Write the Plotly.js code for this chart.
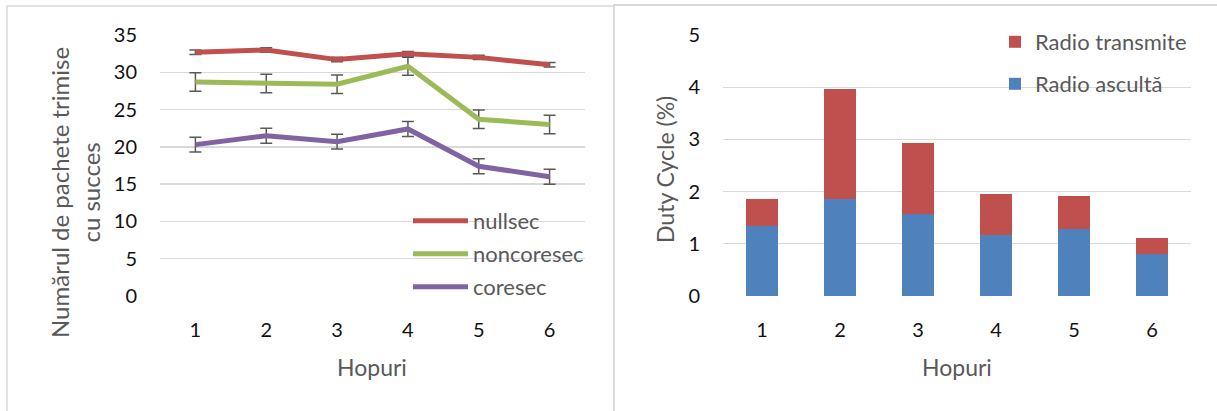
<!DOCTYPE html>
<html>
<head>
<meta charset="utf-8">
<script src="https://cdn.plot.ly/plotly-3.0.1.min.js"></script>
<style>html,body{margin:0;padding:0;background:#fff;}#chart{width:1217px;height:411px;}</style>
</head>
<body>
<div id="chart"></div>
<script>
// ---- data ----
const hops = ['1', '2', '3', '4', '5', '6'];
const nullsec = [32.7, 33.0, 31.7, 32.5, 32.0, 31.0];
const nullsecErr = [0.3, 0.3, 0.3, 0.3, 0.3, 0.3];
const noncoresec = [28.7, 28.5, 28.4, 30.8, 23.7, 23.0];
const noncoresecErr = [1.25, 1.25, 1.25, 1.2, 1.25, 1.25];
const coresec = [20.3, 21.5, 20.7, 22.4, 17.4, 16.0];
const coresecErr = [1.0, 1.0, 1.0, 1.0, 1.0, 1.0];
const radioListen = [1.34, 1.86, 1.57, 1.16, 1.28, 0.81];
const radioTransmit = [0.52, 2.11, 1.37, 0.80, 0.64, 0.30];
const seriesNames = ['nullsec', 'noncoresec', 'coresec'];
const barNames = ['Radio transmite', 'Radio ascultă'];
const leftYTitle = 'Numărul de pachete trimise<br>cu succes';
const rightYTitle = 'Duty Cycle (%)';
const xTitle = 'Hopuri';

// ---- style ----
const W = 1217, H = 411;
const px = v => v / W;
const py = v => 1 - v / H;
const FONT = 'Lato, "Open Sans", sans-serif';
const grid = '#d9d9d9';
const errStyle = (arr) => ({type: 'data', array: arr, visible: true, color: '#595959', thickness: 1.5, width: 6});

function lineTrace(name, y, err, color, legend) {
  return {
    type: 'scatter', mode: 'lines', x: hops, y: y, name: name,
    line: {color: color, width: 5},
    error_y: errStyle(err),
    xaxis: 'x', yaxis: 'y', legend: legend
  };
}

const traces = [
  lineTrace(seriesNames[0], nullsec, nullsecErr, '#C0504D', 'legend'),
  lineTrace(seriesNames[1], noncoresec, noncoresecErr, '#9BBB59', 'legend2'),
  lineTrace(seriesNames[2], coresec, coresecErr, '#8064A2', 'legend3'),
  {type: 'bar', x: hops, y: radioListen, name: barNames[1], marker: {color: '#4F81BD'}, xaxis: 'x2', yaxis: 'y2', legend: 'legend5'},
  {type: 'bar', x: hops, y: radioTransmit, name: barNames[0], marker: {color: '#C0504D'}, xaxis: 'x2', yaxis: 'y2', legend: 'legend4'}
];

const tickFont = {family: FONT, size: 20, color: '#111'};
const titleFont = {family: FONT, size: 23, color: '#595959'};
const yTitleFont = {family: FONT, size: 24, color: '#595959'};
const legFont = {family: FONT, size: 22, color: '#595959'};

const yDom = [py(296), py(35)];
function legendAt(x, y, iw) {
  return {x: px(x), y: py(y), xanchor: 'left', yanchor: 'middle', xref: 'paper', yref: 'paper',
          font: legFont, bgcolor: 'rgba(0,0,0,0)', borderwidth: 0, itemwidth: iw, itemclick: false};
}

const layout = {
  width: W, height: H,
  margin: {l: 0, r: 0, t: 0, b: 0},
  paper_bgcolor: '#fff', plot_bgcolor: '#fff',
  barmode: 'stack', bargap: 0.6,
  showlegend: true,
  xaxis: {domain: [px(160), px(585)], type: 'category', range: [-0.5, 5.5], showgrid: false, showline: false, zeroline: false,
          ticks: '', tickfont: tickFont, ticklabelstandoff: 20, anchor: 'y', fixedrange: true},
  yaxis: {domain: yDom, range: [0, 35], dtick: 5, showgrid: true, gridcolor: grid, gridwidth: 1.3,
          zeroline: false, showline: false, ticks: '', tickfont: tickFont, ticklabelstandoff: 22, anchor: 'x', fixedrange: true},
  xaxis2: {domain: [px(723), px(1191)], type: 'category', range: [-0.5, 5.5], showgrid: false, showline: false, zeroline: false,
          ticks: '', tickfont: tickFont, ticklabelstandoff: 20, anchor: 'y2', fixedrange: true},
  yaxis2: {domain: yDom, range: [0, 5], dtick: 1, showgrid: true, gridcolor: grid, gridwidth: 1.3,
          zeroline: false, showline: false, ticks: '', tickfont: tickFont, ticklabelstandoff: 22, anchor: 'x2', fixedrange: true},
  legend: legendAt(408, 221, 55),
  legend2: legendAt(408, 254, 55),
  legend3: legendAt(408, 287, 55),
  legend4: legendAt(995, 42, 30),
  legend5: legendAt(995, 84, 30),
  annotations: [
    {text: leftYTitle, textangle: -90, x: px(75), y: py(193), xref: 'paper', yref: 'paper',
     showarrow: false, font: yTitleFont, xanchor: 'center', yanchor: 'middle'},
    {text: xTitle, x: px(372), y: py(367), xref: 'paper', yref: 'paper',
     showarrow: false, font: titleFont, xanchor: 'center', yanchor: 'middle'},
    {text: rightYTitle, textangle: -90, x: px(665), y: py(170), xref: 'paper', yref: 'paper',
     showarrow: false, font: titleFont, xanchor: 'center', yanchor: 'middle'},
    {text: xTitle, x: px(957), y: py(367), xref: 'paper', yref: 'paper',
     showarrow: false, font: titleFont, xanchor: 'center', yanchor: 'middle'}
  ],
  shapes: [
    {type: 'rect', xref: 'paper', yref: 'paper', x0: px(7), x1: px(614), y0: py(430), y1: py(6),
     line: {color: '#d9d9d9', width: 1.5}, layer: 'below'},
    {type: 'rect', xref: 'paper', yref: 'paper', x0: px(614), x1: px(1240), y0: py(430), y1: py(5),
     line: {color: '#d9d9d9', width: 2}, layer: 'below'}
  ]
};

Plotly.newPlot('chart', traces, layout, {displayModeBar: false, staticPlot: true});
</script>
</body>
</html>
